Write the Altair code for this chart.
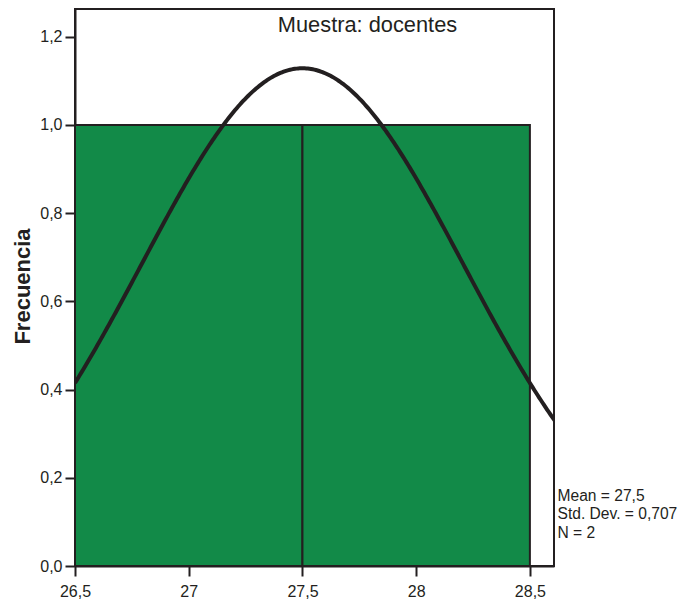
import altair as alt
import numpy as np
import pandas as pd

# Histogram bins (edges) and counts
bin_start = [26.5, 27.5]
bin_end = [27.5, 28.5]
counts = [1, 1]

# Summary statistics of the sample
mean = 27.5
std_dev = 0.707
n_obs = 2
bin_width = 1.0

x_ticks = [26.5, 27.0, 27.5, 28.0, 28.5]
y_ticks = [0.0, 0.2, 0.4, 0.6, 0.8, 1.0, 1.2]

stats_lines = ["Mean = 27,5", "Std. Dev. = 0,707", "N = 2"]
sample_title = "Muestra: docentes"

X_MIN, X_MAX = 26.5, 28.606
Y_MIN, Y_MAX = 0.0, 1.263

bars = pd.DataFrame({"start": bin_start, "end": bin_end, "count": counts})

# Normal curve scaled to counts, using the stated mean / std. dev. / N
xs = np.linspace(X_MIN, X_MAX + 0.02, 300)
dens = n_obs * bin_width / (std_dev * np.sqrt(2 * np.pi)) * np.exp(-0.5 * ((xs - mean) / std_dev) ** 2)
curve = pd.DataFrame({"x": xs, "y": dens})

INK = "#231f20"
FONT = "Liberation Sans"
W, H = 479, 557

x_scale = alt.Scale(domain=[X_MIN, X_MAX], nice=False, zero=False)
y_scale = alt.Scale(domain=[Y_MIN, Y_MAX], nice=False, zero=True)

x_axis = alt.Axis(
    values=x_ticks,
    labelExpr="replace(format(datum.value, '.1~f'), '.', ',')",
    title=None, grid=False, tickSize=10, tickWidth=2, tickColor=INK,
    domainColor=INK, domainWidth=2, labelPadding=7, labelFontSize=16,
    labelColor=INK, labelFont=FONT, labelFlush=False,
)
y_axis = alt.Axis(
    values=y_ticks,
    labelExpr="replace(format(datum.value, '.1f'), '.', ',')",
    title="Frecuencia", titleFont=FONT, titleFontSize=22, titleFontWeight="bold",
    titleColor=INK, titleAngle=-90, titleX=-46, titleY=277,
    titleAlign="center", titleBaseline="alphabetic",
    grid=False, tickSize=10, tickWidth=2, tickColor=INK,
    domainColor=INK, domainWidth=2, labelPadding=3, labelFontSize=16,
    labelColor=INK, labelFont=FONT,
)

hist = alt.Chart(bars).mark_rect(
    color="#128a48", stroke=INK, strokeWidth=2
).encode(
    x=alt.X("start:Q", scale=x_scale, axis=x_axis),
    x2="end:Q",
    y=alt.Y("count:Q", scale=y_scale, axis=y_axis),
    y2=alt.datum(0),
)

line = alt.Chart(curve).mark_line(
    color=INK, strokeWidth=4, clip=True
).encode(
    x=alt.X("x:Q", scale=x_scale),
    y=alt.Y("y:Q", scale=y_scale),
)

title_text = alt.Chart(pd.DataFrame({"t": [sample_title]})).mark_text(
    font=FONT, fontSize=21.8, color=INK, align="center", baseline="alphabetic"
).encode(x=alt.value(292.5), y=alt.value(22.7), text="t:N")

stats_text = alt.Chart(pd.DataFrame({"t": [0]})).mark_text(
    font=FONT, fontSize=15.6, color=INK, align="left", baseline="alphabetic",
    lineHeight=18.5,
).encode(x=alt.value(482.5), y=alt.value(491.5), text=alt.value(stats_lines))

chart = alt.layer(hist, line, title_text, stats_text).properties(
    width=W, height=H,
    autosize=alt.AutoSizeParams(type="none"),
    padding={"left": 75, "top": 9, "right": 126, "bottom": 35},
    background="white",
).configure_view(stroke=INK, strokeWidth=2)

chart.save("out.html", embed_options={"renderer": "svg", "actions": False})
